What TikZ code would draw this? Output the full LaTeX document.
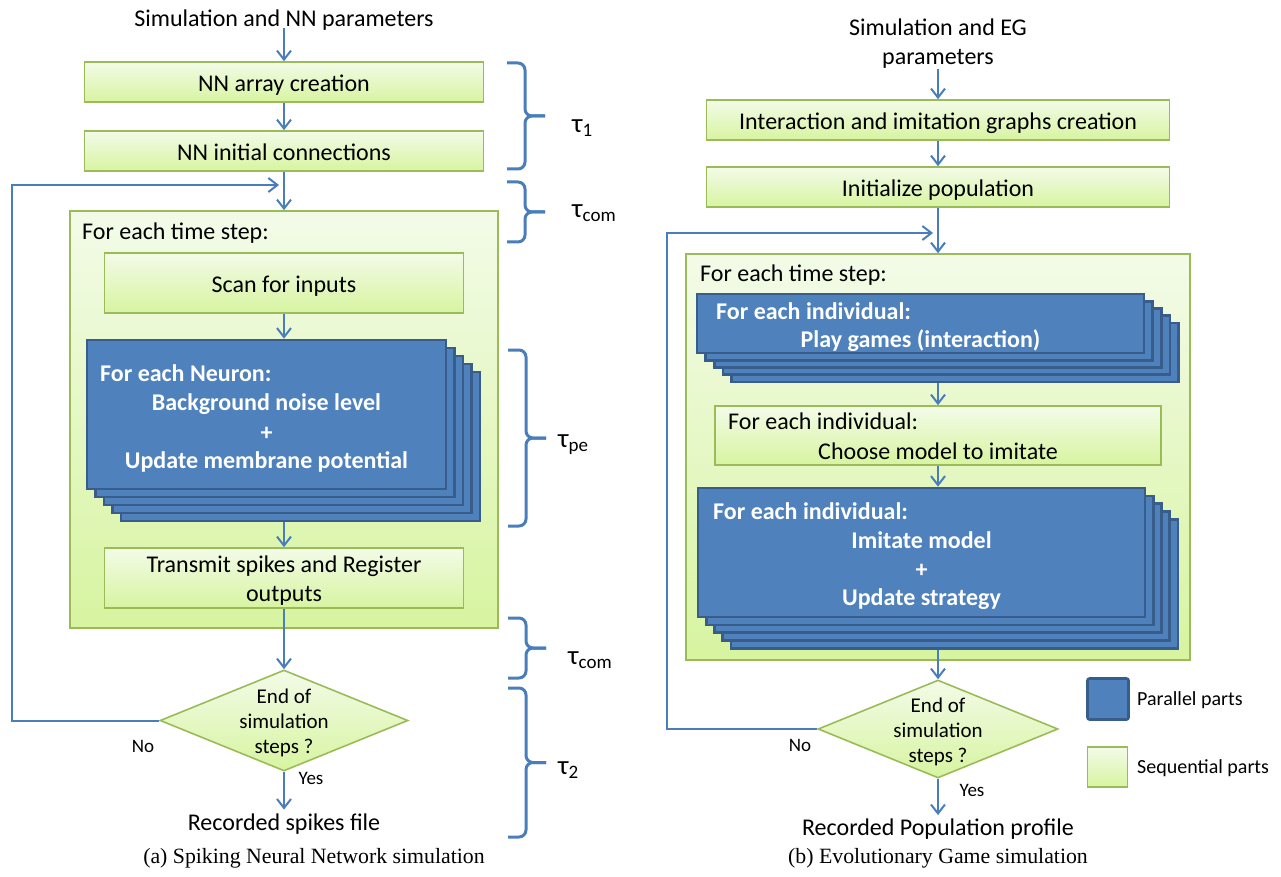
\documentclass[tikz,border=0pt]{standalone}
\usepackage{fontspec}
\setmainfont{Carlito}
\newfontfamily\capfont{Liberation Serif}
\usetikzlibrary{arrows.meta,shapes.geometric}

\definecolor{gborder}{HTML}{9BBB59}
\definecolor{gtop}{HTML}{F3FBE8}
\definecolor{gbot}{HTML}{D7F4A0}
\definecolor{bfill}{HTML}{4F81BD}
\definecolor{bborder}{HTML}{385D8A}
\definecolor{acol}{HTML}{4A7EBB}

% lowered, smaller index for the timing labels
\newcommand\tsub[1]{\raisebox{-4pt}{\fontsize{19}{19}\selectfont #1}}

% stack of parallel blocks: name, x1, y1, x2, y2, dx, dy (front block given)
\newcommand\pstack[7]{%
  \foreach \k in {4,3,2,1}{%
    \node[bbox,minimum width={#4-#2},minimum height={#5-#3}]
      (#1\k) at ({(#2+#4)/2+\k*#6},{(#3+#5)/2+\k*#7}) {};
  }
  \node[bbox,minimum width={#4-#2},minimum height={#5-#3}]
    (#1) at ({(#2+#4)/2},{(#3+#5)/2}) {};
}

% right curly brace: x of the ends, top y, bottom y
\newcommand\rbrc[3]{%
  \draw[brace] (#1,#2) -- (#1+18,#2) -- (#1+18,{(#2+#3)/2}) -- (#1+38,{(#2+#3)/2});
  \draw[brace] (#1,#3) -- (#1+18,#3) -- (#1+18,{(#2+#3)/2}) -- (#1+38,{(#2+#3)/2});
}

\begin{document}
\begin{tikzpicture}[x=1pt,y=-1pt,
  gbox/.style={draw=gborder,line width=1.6pt,top color=gtop,bottom color=gbot,
    inner sep=0pt,font=\fontsize{24}{29}\selectfont,text height=20.4pt,text depth=2pt},
  bbox/.style={draw=bborder,line width=2.6pt,fill=bfill,inner sep=0pt},
  arr/.style={draw=acol,line width=2pt,-{Straight Barb[length=9pt,width=14pt]}},
  txt/.style={inner sep=0pt,font=\fontsize{24}{29}\selectfont,text height=20.4pt,text depth=2pt},
  mtxt/.style={inner sep=0pt,font=\fontsize{24}{29}\selectfont,align=center},
  wtxt/.style={inner sep=0pt,text=white,font=\bfseries\fontsize{24}{29}\selectfont,text height=20.4pt,text depth=2pt},
  dtxt/.style={inner sep=0pt,font=\fontsize{21}{25}\selectfont,align=center},
  small/.style={inner sep=0pt,font=\fontsize{19}{22}\selectfont},
  diam/.style={diamond,draw=gborder,line width=1.6pt,top color=gtop,bottom color=gbot,inner sep=0pt},
  brace/.style={draw=acol,line width=3pt,rounded corners=7pt},
  tau/.style={inner sep=0pt,anchor=west,font=\fontsize{27}{30}\selectfont},
  captxt/.style={inner sep=0pt,font=\capfont\fontsize{21.8}{25}\selectfont},
]
\useasboundingbox (0,0) rectangle (1281,877);

% ---------------- (a) spiking neural network ----------------
\node[txt] (inA) at (284,17) {Simulation and NN parameters};
\node[gbox,minimum width=399,minimum height=40] (b1) at (284,82) {NN array creation};
\node[gbox,minimum width=399,minimum height=40] (b2) at (284,151) {NN initial connections};
\node[gbox,minimum width=428,minimum height=417] (loopA) at (284,419.5) {};
\node[txt,anchor=west] (stepA) at (82,230) {For each time step:};
\node[gbox,minimum width=359,minimum height=60] (scan) at (284,283) {Scan for inputs};
\pstack{stackA}{87}{340}{446}{489}{8.5}{8}
\node[wtxt,anchor=west] (neu) at (100,372) {For each Neuron:};
\node[wtxt] (bg) at (266.5,401) {Background noise level};
\node[wtxt] (plA) at (266.5,431) {+};
\node[wtxt] (mem) at (266.5,459) {Update membrane potential};
\node[gbox,minimum width=359,minimum height=60] (trans) at (284,578) {};
\node[txt] (trans1) at (284,563.5) {Transmit spikes and Register};
\node[txt] (trans2) at (284,592.5) {outputs};
\node[diam,minimum width=248,minimum height=101] (dA) at (284,720.5) {};
\node[dtxt] (dAt) at (284,723) {End of\\simulation\\steps ?};
\node[small] (noA) at (143,746) {No};
\node[small] (yesA) at (311,778) {Yes};
\node[txt] (outA) at (284,821) {Recorded spikes file};
\coordinate (fA1) at (12,720.5);
\coordinate (fA2) at (12,185);
\coordinate (fA3) at (279,185);

\draw[arr] (inA) -- (b1);
\draw[arr] (b1) -- (b2);
\draw[arr] (b2) -- (loopA);
\draw[arr] (scan.south) -- (scan.south |- stackA.north);
\draw[arr] (trans.north |- stackA4.south) -- (trans.north);
\draw[arr] (trans) -- (dA);
\draw[arr] (dA) -- (outA);
\draw[arr] (dA.west) -- (fA1) -- (fA2) -- (fA3);

% timing braces
\rbrc{507}{63}{169}
\node[tau] (t1) at (572,128) {τ\tsub{1}};
\rbrc{507}{182}{242}
\node[tau] (tc1) at (572,213) {τ\tsub{com}};
\rbrc{508}{350}{526}
\node[tau] (tpe) at (558,445) {τ\tsub{pe}};
\rbrc{508}{618}{678}
\node[tau] (tc2) at (568,660) {τ\tsub{com}};
\rbrc{508}{688}{837}
\node[tau] (t2) at (558,770) {τ\tsub{2}};

% ---------------- (b) evolutionary game ----------------
\node[mtxt] (inB) at (938,44) {Simulation and EG\\parameters};
\node[gbox,minimum width=463,minimum height=40] (b3) at (938,120) {Interaction and imitation graphs creation};
\node[gbox,minimum width=463,minimum height=40] (b4) at (938,187) {Initialize population};
\node[gbox,minimum width=504,minimum height=406] (loopB) at (938,457) {};
\node[txt,anchor=west] (stepB) at (700,272) {For each time step:};
\pstack{stackB}{697}{294}{1144}{353}{8.6}{7.2}
\node[wtxt,anchor=west] (indB1) at (716,310) {For each individual:};
\node[wtxt] (play) at (920.5,338.5) {Play games (interaction)};
\node[gbox,minimum width=446,minimum height=59] (choose) at (938,435.5) {};
\node[txt,anchor=west] (indB2) at (728,420.5) {For each individual:};
\node[txt] (chm) at (938,450.5) {Choose model to imitate};
\pstack{stackC}{698}{488}{1145}{617}{8.2}{7.8}
\node[wtxt,anchor=west] (indB3) at (713,510) {For each individual:};
\node[wtxt] (imi) at (921.5,539.5) {Imitate model};
\node[wtxt] (plB) at (921.5,568) {+};
\node[wtxt] (upd) at (921.5,596) {Update strategy};
\node[diam,minimum width=240,minimum height=98] (dB) at (938,729) {};
\node[dtxt] (dBt) at (938,731.5) {End of\\simulation\\steps ?};
\node[small] (noB) at (800,745) {No};
\node[small] (yesB) at (972,790) {Yes};
\node[txt] (outB) at (938,826.5) {Recorded Population profile};
\coordinate (fB1) at (667,729);
\coordinate (fB2) at (667,233);
\coordinate (fB3) at (933,233);

\draw[arr] (inB) -- (b3);
\draw[arr] (b3) -- (b4);
\draw[arr] (b4) -- (loopB);
\draw[arr] (choose.north |- stackB4.south) -- (choose.north);
\draw[arr] (choose.south) -- (choose.south |- stackC.north);
\draw[arr] (dB.north |- stackC4.south) -- (dB.north);
\draw[arr] (dB) -- (outB);
\draw[arr] (dB.west) -- (fB1) -- (fB2) -- (fB3);

% legend
\node[bbox,minimum width=41,minimum height=41,rounded corners=2pt] (legP) at (1108,699) {};
\node[inner sep=0pt,anchor=west,font=\fontsize{20}{24}\selectfont] (legPt) at (1137,700) {Parallel parts};
\node[gbox,minimum width=40,minimum height=40] (legS) at (1107.5,767) {};
\node[inner sep=0pt,anchor=west,font=\fontsize{20}{24}\selectfont] (legSt) at (1137,768) {Sequential parts};

% captions
\node[captxt] (capA) at (314,858) {(a) Spiking Neural Network simulation};
\node[captxt] (capB) at (938,858) {(b) Evolutionary Game simulation};
\end{tikzpicture}
\end{document}
